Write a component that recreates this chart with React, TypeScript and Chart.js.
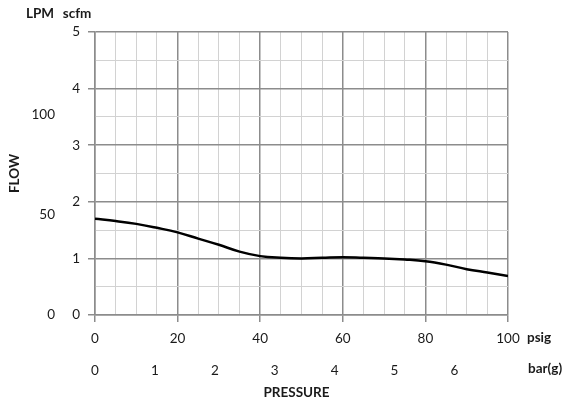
import { useEffect, useRef } from 'react';
import { Chart, registerables } from 'chart.js';

Chart.register(...registerables);

// ---- data ----
const pressurePsig = [0, 5, 10, 15, 20, 25, 30, 35, 40, 45, 50, 55, 60, 65, 70, 75, 80, 85, 90, 95, 100];
const flowScfm = [1.70, 1.66, 1.61, 1.54, 1.46, 1.35, 1.24, 1.12, 1.04, 1.01, 1.00, 1.01, 1.02, 1.01, 1.00, 0.98, 0.95, 0.89, 0.81, 0.75, 0.69];
const lpmTicks = [0, 50, 100];
const barTicks = [0, 1, 2, 3, 4, 5, 6];
const PSI_PER_BAR = 14.5038;
const LPM_PER_SCFM = 28.3168;
const SCFM_MAX = 5;
const PSIG_MAX = 100;

const FONT = 'Lato, "Open Sans", sans-serif';
const MAJOR = '#8c8c8c';
const MINOR = '#d2d2d2';
const TEXT = '#1a1a1a';

const extraLabels = {
  id: 'extraLabels',
  afterDraw(chart: any) {
    const ctx = chart.ctx;
    const { left, right, top, bottom } = chart.chartArea;
    ctx.save();
    ctx.fillStyle = TEXT;
    ctx.font = `bold 13.5px ${FONT}`;
    ctx.textBaseline = 'middle';
    ctx.textAlign = 'left';
    ctx.fillText('psig', right + 19, bottom + 23);
    ctx.fillText('bar(g)', right + 20, bottom + 54);
    ctx.textAlign = 'center';
    ctx.fillText('PRESSURE', (left + right) / 2 - 5, bottom + 78);
    ctx.fillText('LPM', 40, top - 18);
    ctx.fillText('scfm', 77, top - 18);
    ctx.translate(15, (top + bottom) / 2);
    ctx.rotate(-Math.PI / 2);
    ctx.fillText('FLOW', 0, 0);
    ctx.restore();
  },
};

export default function App() {
  const ref = useRef<HTMLCanvasElement>(null);

  useEffect(() => {
    if (!ref.current) return;
    const isMajorX = (c: any) => c.tick && c.tick.value % 20 === 0;
    const isMajorY = (c: any) => c.tick && Number.isInteger(c.tick.value);
    const chart = new Chart(ref.current, {
      type: 'line',
      data: {
        datasets: [
          {
            data: pressurePsig.map((p, i) => ({ x: p, y: flowScfm[i] })),
            borderColor: '#000',
            borderWidth: 2.5,
            pointRadius: 0,
            tension: 0.4,
            fill: false,
          },
        ],
      },
      options: {
        animation: false,
        responsive: true,
        maintainAspectRatio: false,
        layout: { padding: { top: 32, right: 54, bottom: 19, left: 0 } },
        plugins: { legend: { display: false }, tooltip: { enabled: false } },
        scales: {
          x: {
            type: 'linear',
            position: 'bottom',
            weight: 0,
            min: 0,
            max: PSIG_MAX,
            afterFit: (s: any) => { s.height = 40; },
            ticks: {
              stepSize: 5,
              autoSkip: false,
              maxRotation: 0,
              padding: 9,
              color: TEXT,
              font: { family: FONT, size: 13.5 },
              callback: (v: any) => (v % 20 === 0 ? String(v) : ''),
            },
            grid: {
              color: (c: any) => (isMajorX(c) ? MAJOR : MINOR),
              lineWidth: (c: any) => (isMajorX(c) ? 1.5 : 1),
              tickColor: (c: any) => (isMajorX(c) ? MAJOR : 'rgba(0,0,0,0)'),
              tickLength: 7,
            },
            border: { color: MAJOR, width: 1.5 },
          },
          x2: {
            type: 'linear',
            position: 'bottom',
            weight: 1,
            min: 0,
            max: PSIG_MAX / PSI_PER_BAR,
            afterFit: (s: any) => { s.height = 30; },
            afterBuildTicks: (s: any) => { s.ticks = barTicks.map((v) => ({ value: v })); },
            ticks: {
              autoSkip: false,
              maxRotation: 0,
              padding: 8,
              color: TEXT,
              font: { family: FONT, size: 13.5 },
            },
            grid: { display: false, drawTicks: false },
            border: { display: false },
          },
          y: {
            type: 'linear',
            position: 'left',
            weight: 0,
            min: 0,
            max: SCFM_MAX,
            afterFit: (s: any) => { s.width = 35; },
            ticks: {
              stepSize: 0.5,
              autoSkip: false,
              padding: 8,
              color: TEXT,
              font: { family: FONT, size: 13.5 },
              callback: (v: any) => (Number.isInteger(v) ? String(v) : ''),
            },
            grid: {
              color: (c: any) => (isMajorY(c) ? MAJOR : MINOR),
              lineWidth: (c: any) => (isMajorY(c) ? 1.5 : 1),
              tickColor: (c: any) => (isMajorY(c) ? MAJOR : 'rgba(0,0,0,0)'),
              tickLength: 7,
            },
            border: { color: MAJOR, width: 1.5 },
          },
          y2: {
            type: 'linear',
            position: 'left',
            weight: 1,
            min: 0,
            max: SCFM_MAX * LPM_PER_SCFM,
            afterFit: (s: any) => { s.width = 60; },
            afterBuildTicks: (s: any) => { s.ticks = lpmTicks.map((v) => ({ value: v })); },
            ticks: {
              autoSkip: false,
              padding: 5,
              color: TEXT,
              font: { family: FONT, size: 13.5 },
            },
            grid: { display: false, drawTicks: false },
            border: { display: false },
          },
        },
      } as any,
      plugins: [extraLabels],
    });
    return () => chart.destroy();
  }, []);

  return (
    <div style={{ position: 'fixed', left: 0, top: 0, width: 562, height: 404, background: '#fff' }}>
      <canvas ref={ref} />
    </div>
  );
}
